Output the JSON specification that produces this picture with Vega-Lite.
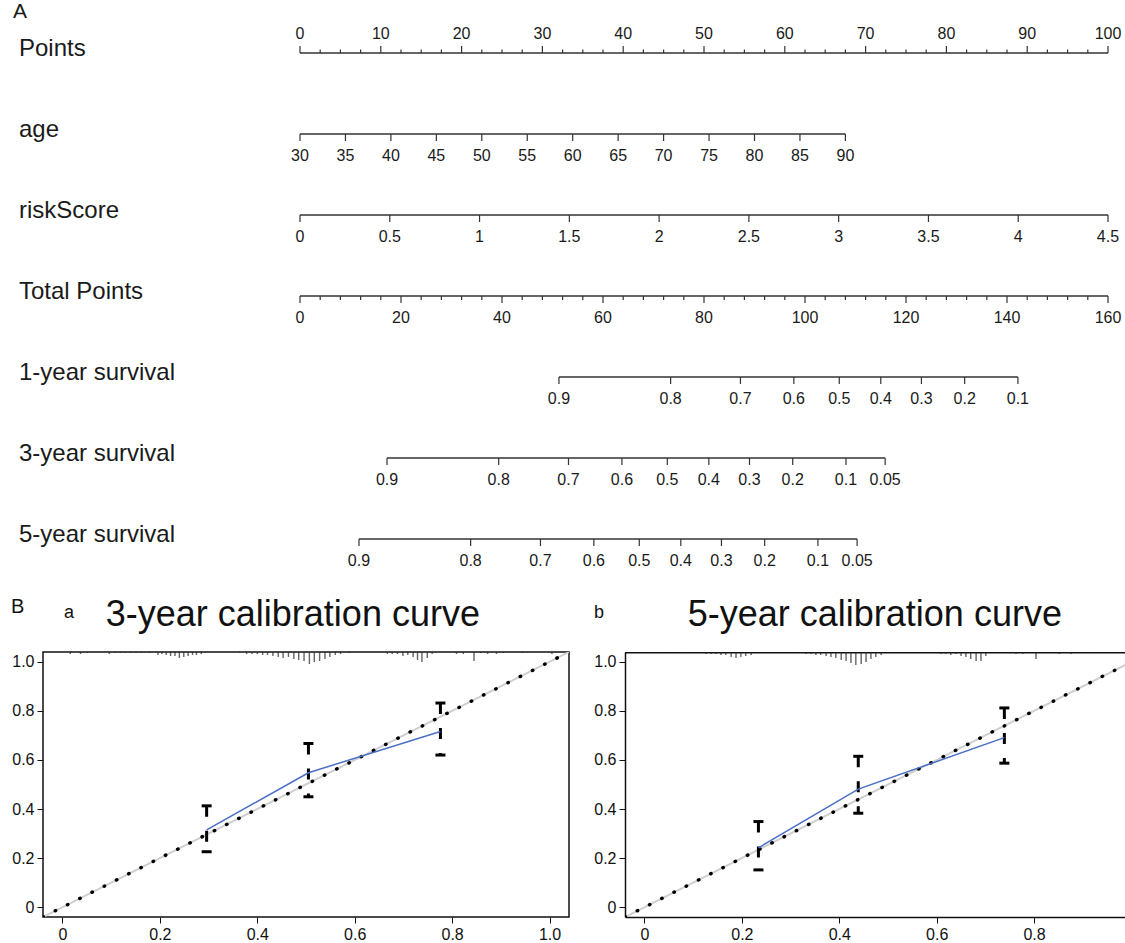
{
  "$schema": "https://vega.github.io/schema/vega-lite/v6.json",
  "background": "white",
  "padding": {"left": 10, "top": 0, "right": 0, "bottom": 0},
  "spacing": 16,
  "config": {
    "font": "Liberation Sans",
    "view": {"stroke": null},
    "axis": {
      "labelFont": "Liberation Sans",
      "labelFontSize": 16,
      "labelColor": "#111",
      "tickColor": "#111",
      "tickSize": 6,
      "tickWidth": 1,
      "labelPadding": 3,
      "grid": false,
      "domainColor": "#111",
      "domainWidth": 1.5,
      "labelFlush": false
    }
  },
  "datasets": {
    "ticks": [
      {"row": 0, "pts": 0, "label": "0"}, {"row": 0, "pts": 10, "label": "10"}, {"row": 0, "pts": 20, "label": "20"},
      {"row": 0, "pts": 30, "label": "30"}, {"row": 0, "pts": 40, "label": "40"}, {"row": 0, "pts": 50, "label": "50"},
      {"row": 0, "pts": 60, "label": "60"}, {"row": 0, "pts": 70, "label": "70"}, {"row": 0, "pts": 80, "label": "80"},
      {"row": 0, "pts": 90, "label": "90"}, {"row": 0, "pts": 100, "label": "100"},
      {"row": 0, "pts": 2.5}, {"row": 0, "pts": 5}, {"row": 0, "pts": 7.5}, {"row": 0, "pts": 12.5}, {"row": 0, "pts": 15},
      {"row": 0, "pts": 17.5}, {"row": 0, "pts": 22.5}, {"row": 0, "pts": 25}, {"row": 0, "pts": 27.5}, {"row": 0, "pts": 32.5},
      {"row": 0, "pts": 35}, {"row": 0, "pts": 37.5}, {"row": 0, "pts": 42.5}, {"row": 0, "pts": 45}, {"row": 0, "pts": 47.5},
      {"row": 0, "pts": 52.5}, {"row": 0, "pts": 55}, {"row": 0, "pts": 57.5}, {"row": 0, "pts": 62.5}, {"row": 0, "pts": 65},
      {"row": 0, "pts": 67.5}, {"row": 0, "pts": 72.5}, {"row": 0, "pts": 75}, {"row": 0, "pts": 77.5}, {"row": 0, "pts": 82.5},
      {"row": 0, "pts": 85}, {"row": 0, "pts": 87.5}, {"row": 0, "pts": 92.5}, {"row": 0, "pts": 95}, {"row": 0, "pts": 97.5},
      {"row": 1, "pts": 0, "label": "30"}, {"row": 1, "pts": 5.625, "label": "35"}, {"row": 1, "pts": 11.25, "label": "40"},
      {"row": 1, "pts": 16.875, "label": "45"}, {"row": 1, "pts": 22.5, "label": "50"}, {"row": 1, "pts": 28.125, "label": "55"},
      {"row": 1, "pts": 33.75, "label": "60"}, {"row": 1, "pts": 39.375, "label": "65"}, {"row": 1, "pts": 45, "label": "70"},
      {"row": 1, "pts": 50.625, "label": "75"}, {"row": 1, "pts": 56.25, "label": "80"}, {"row": 1, "pts": 61.875, "label": "85"},
      {"row": 1, "pts": 67.5, "label": "90"},
      {"row": 2, "pts": 0, "label": "0"}, {"row": 2, "pts": 11.111, "label": "0.5"}, {"row": 2, "pts": 22.222, "label": "1"},
      {"row": 2, "pts": 33.333, "label": "1.5"}, {"row": 2, "pts": 44.444, "label": "2"}, {"row": 2, "pts": 55.556, "label": "2.5"},
      {"row": 2, "pts": 66.667, "label": "3"}, {"row": 2, "pts": 77.778, "label": "3.5"}, {"row": 2, "pts": 88.889, "label": "4"},
      {"row": 2, "pts": 100, "label": "4.5"},
      {"row": 3, "pts": 0, "label": "0"}, {"row": 3, "pts": 12.5, "label": "20"}, {"row": 3, "pts": 25, "label": "40"},
      {"row": 3, "pts": 37.5, "label": "60"}, {"row": 3, "pts": 50, "label": "80"}, {"row": 3, "pts": 62.5, "label": "100"},
      {"row": 3, "pts": 75, "label": "120"}, {"row": 3, "pts": 87.5, "label": "140"}, {"row": 3, "pts": 100, "label": "160"},
      {"row": 3, "pts": 2.5}, {"row": 3, "pts": 5}, {"row": 3, "pts": 7.5}, {"row": 3, "pts": 10}, {"row": 3, "pts": 15},
      {"row": 3, "pts": 17.5}, {"row": 3, "pts": 20}, {"row": 3, "pts": 22.5}, {"row": 3, "pts": 27.5}, {"row": 3, "pts": 30},
      {"row": 3, "pts": 32.5}, {"row": 3, "pts": 35}, {"row": 3, "pts": 40}, {"row": 3, "pts": 42.5}, {"row": 3, "pts": 45},
      {"row": 3, "pts": 47.5}, {"row": 3, "pts": 52.5}, {"row": 3, "pts": 55}, {"row": 3, "pts": 57.5}, {"row": 3, "pts": 60},
      {"row": 3, "pts": 65}, {"row": 3, "pts": 67.5}, {"row": 3, "pts": 70}, {"row": 3, "pts": 72.5}, {"row": 3, "pts": 77.5},
      {"row": 3, "pts": 80}, {"row": 3, "pts": 82.5}, {"row": 3, "pts": 85}, {"row": 3, "pts": 90}, {"row": 3, "pts": 92.5},
      {"row": 3, "pts": 95}, {"row": 3, "pts": 97.5},
      {"row": 4, "pts": 32.05, "label": "0.9"}, {"row": 4, "pts": 45.87, "label": "0.8"}, {"row": 4, "pts": 54.51, "label": "0.7"},
      {"row": 4, "pts": 61.12, "label": "0.6"}, {"row": 4, "pts": 66.74, "label": "0.5"}, {"row": 4, "pts": 71.88, "label": "0.4"},
      {"row": 4, "pts": 76.91, "label": "0.3"}, {"row": 4, "pts": 82.26, "label": "0.2"}, {"row": 4, "pts": 88.85, "label": "0.1"},
      {"row": 5, "pts": 10.77, "label": "0.9"}, {"row": 5, "pts": 24.59, "label": "0.8"}, {"row": 5, "pts": 33.23, "label": "0.7"},
      {"row": 5, "pts": 39.84, "label": "0.6"}, {"row": 5, "pts": 45.46, "label": "0.5"}, {"row": 5, "pts": 50.6, "label": "0.4"},
      {"row": 5, "pts": 55.63, "label": "0.3"}, {"row": 5, "pts": 60.98, "label": "0.2"}, {"row": 5, "pts": 67.57, "label": "0.1"},
      {"row": 5, "pts": 72.42, "label": "0.05"},
      {"row": 6, "pts": 7.3, "label": "0.9"}, {"row": 6, "pts": 21.12, "label": "0.8"}, {"row": 6, "pts": 29.76, "label": "0.7"},
      {"row": 6, "pts": 36.37, "label": "0.6"}, {"row": 6, "pts": 41.99, "label": "0.5"}, {"row": 6, "pts": 47.13, "label": "0.4"},
      {"row": 6, "pts": 52.16, "label": "0.3"}, {"row": 6, "pts": 57.51, "label": "0.2"}, {"row": 6, "pts": 64.1, "label": "0.1"},
      {"row": 6, "pts": 68.95, "label": "0.05"}
    ],
    "rowNames": [
      {"row": 0, "name": "Points"}, {"row": 1, "name": "age"}, {"row": 2, "name": "riskScore"},
      {"row": 3, "name": "Total Points"}, {"row": 4, "name": "1-year survival"},
      {"row": 5, "name": "3-year survival"}, {"row": 6, "name": "5-year survival"}
    ],
    "diag": [{"p": -0.04}, {"p": 1.04}],
    "cal3": [
      {"pred": 0.296, "obs": 0.315, "lower": 0.226, "upper": 0.413},
      {"pred": 0.505, "obs": 0.548, "lower": 0.45, "upper": 0.667},
      {"pred": 0.776, "obs": 0.716, "lower": 0.62, "upper": 0.832}
    ],
    "cal5": [
      {"pred": 0.234, "obs": 0.242, "lower": 0.152, "upper": 0.349},
      {"pred": 0.439, "obs": 0.481, "lower": 0.383, "upper": 0.615},
      {"pred": 0.739, "obs": 0.691, "lower": 0.587, "upper": 0.812}
    ],
    "rug3": [
      {"pos": 0.016, "count": 2}, {"pos": 0.037, "count": 2}, {"pos": 0.051, "count": 1}, {"pos": 0.096, "count": 2},
      {"pos": 0.108, "count": 1}, {"pos": 0.119, "count": 1}, {"pos": 0.129, "count": 1}, {"pos": 0.14, "count": 1},
      {"pos": 0.151, "count": 1}, {"pos": 0.161, "count": 1}, {"pos": 0.179, "count": 1}, {"pos": 0.196, "count": 3},
      {"pos": 0.204, "count": 2}, {"pos": 0.213, "count": 3}, {"pos": 0.222, "count": 4}, {"pos": 0.231, "count": 4},
      {"pos": 0.24, "count": 6}, {"pos": 0.249, "count": 5}, {"pos": 0.258, "count": 4}, {"pos": 0.267, "count": 3},
      {"pos": 0.275, "count": 3}, {"pos": 0.285, "count": 2}, {"pos": 0.293, "count": 1}, {"pos": 0.364, "count": 1},
      {"pos": 0.378, "count": 2}, {"pos": 0.389, "count": 2}, {"pos": 0.4, "count": 2}, {"pos": 0.411, "count": 3},
      {"pos": 0.421, "count": 3}, {"pos": 0.432, "count": 4}, {"pos": 0.443, "count": 5}, {"pos": 0.453, "count": 6},
      {"pos": 0.464, "count": 5}, {"pos": 0.475, "count": 7}, {"pos": 0.485, "count": 8}, {"pos": 0.496, "count": 9},
      {"pos": 0.507, "count": 12}, {"pos": 0.517, "count": 10}, {"pos": 0.528, "count": 9}, {"pos": 0.539, "count": 7},
      {"pos": 0.549, "count": 5}, {"pos": 0.56, "count": 3}, {"pos": 0.571, "count": 2}, {"pos": 0.588, "count": 1},
      {"pos": 0.667, "count": 2}, {"pos": 0.677, "count": 2}, {"pos": 0.688, "count": 2}, {"pos": 0.699, "count": 4},
      {"pos": 0.709, "count": 3}, {"pos": 0.72, "count": 5}, {"pos": 0.729, "count": 8}, {"pos": 0.738, "count": 10},
      {"pos": 0.749, "count": 6}, {"pos": 0.759, "count": 2}, {"pos": 0.809, "count": 2}, {"pos": 0.823, "count": 2},
      {"pos": 0.845, "count": 9}, {"pos": 0.859, "count": 1}, {"pos": 0.873, "count": 2}, {"pos": 0.891, "count": 2},
      {"pos": 0.905, "count": 1}, {"pos": 0.944, "count": 1}, {"pos": 1.005, "count": 2}
    ],
    "rug5": [
      {"pos": 0.013, "count": 1}, {"pos": 0.024, "count": 1}, {"pos": 0.037, "count": 1}, {"pos": 0.065, "count": 1},
      {"pos": 0.075, "count": 1}, {"pos": 0.085, "count": 1}, {"pos": 0.096, "count": 1}, {"pos": 0.116, "count": 1},
      {"pos": 0.126, "count": 2}, {"pos": 0.137, "count": 2}, {"pos": 0.147, "count": 2}, {"pos": 0.157, "count": 3},
      {"pos": 0.167, "count": 3}, {"pos": 0.178, "count": 5}, {"pos": 0.188, "count": 6}, {"pos": 0.198, "count": 5},
      {"pos": 0.208, "count": 4}, {"pos": 0.219, "count": 3}, {"pos": 0.308, "count": 1}, {"pos": 0.321, "count": 1},
      {"pos": 0.332, "count": 2}, {"pos": 0.342, "count": 2}, {"pos": 0.352, "count": 3}, {"pos": 0.362, "count": 3},
      {"pos": 0.373, "count": 4}, {"pos": 0.383, "count": 5}, {"pos": 0.393, "count": 6}, {"pos": 0.404, "count": 8},
      {"pos": 0.414, "count": 9}, {"pos": 0.424, "count": 11}, {"pos": 0.434, "count": 13}, {"pos": 0.445, "count": 12},
      {"pos": 0.455, "count": 10}, {"pos": 0.465, "count": 7}, {"pos": 0.475, "count": 5}, {"pos": 0.486, "count": 3},
      {"pos": 0.513, "count": 1}, {"pos": 0.609, "count": 2}, {"pos": 0.619, "count": 2}, {"pos": 0.629, "count": 3},
      {"pos": 0.64, "count": 2}, {"pos": 0.65, "count": 4}, {"pos": 0.66, "count": 5}, {"pos": 0.67, "count": 7},
      {"pos": 0.681, "count": 9}, {"pos": 0.691, "count": 9}, {"pos": 0.701, "count": 4}, {"pos": 0.763, "count": 2},
      {"pos": 0.777, "count": 2}, {"pos": 0.804, "count": 7}, {"pos": 0.852, "count": 2}, {"pos": 0.866, "count": 1},
      {"pos": 0.876, "count": 2}, {"pos": 0.924, "count": 1}
    ]
  },
  "vconcat": [
    {
      "width": 1083,
      "height": 580,
      "layer": [
        {
          "data": {"name": "ticks"},
          "transform": [{"aggregate": [{"op": "min", "field": "pts", "as": "lo"}, {"op": "max", "field": "pts", "as": "hi"}], "groupby": ["row"]}],
          "mark": {"type": "rule", "color": "#333", "strokeWidth": 1.4},
          "encoding": {
            "x": {"field": "lo", "type": "quantitative", "scale": {"domain": [-31.807, 102.228], "nice": false, "zero": false}, "axis": null},
            "x2": {"field": "hi"},
            "y": {"field": "row", "type": "quantitative", "scale": {"domain": [-0.6543, 6.5062], "nice": false, "zero": false, "reverse": true}, "axis": null}
          }
        },
        {
          "data": {"name": "ticks"},
          "transform": [{"filter": "datum.row == 0 && datum.label != null"}],
          "mark": {"type": "rule", "color": "#333", "strokeWidth": 1.2, "y2Offset": -7},
          "encoding": {
            "x": {"field": "pts", "type": "quantitative", "scale": {"domain": [-31.807, 102.228], "nice": false, "zero": false}, "axis": null},
            "y": {"field": "row", "type": "quantitative", "scale": {"domain": [-0.6543, 6.5062], "nice": false, "zero": false, "reverse": true}, "axis": null},
            "y2": {"field": "row"}
          }
        },
        {
          "data": {"name": "ticks"},
          "transform": [{"filter": "datum.row == 0 && datum.label == null"}],
          "mark": {"type": "rule", "color": "#333", "strokeWidth": 1.2, "y2Offset": -3.5},
          "encoding": {
            "x": {"field": "pts", "type": "quantitative", "scale": {"domain": [-31.807, 102.228], "nice": false, "zero": false}, "axis": null},
            "y": {"field": "row", "type": "quantitative", "scale": {"domain": [-0.6543, 6.5062], "nice": false, "zero": false, "reverse": true}, "axis": null},
            "y2": {"field": "row"}
          }
        },
        {
          "data": {"name": "ticks"},
          "transform": [{"filter": "datum.row > 0 && datum.label != null"}],
          "mark": {"type": "rule", "color": "#333", "strokeWidth": 1.2, "y2Offset": 7},
          "encoding": {
            "x": {"field": "pts", "type": "quantitative", "scale": {"domain": [-31.807, 102.228], "nice": false, "zero": false}, "axis": null},
            "y": {"field": "row", "type": "quantitative", "scale": {"domain": [-0.6543, 6.5062], "nice": false, "zero": false, "reverse": true}, "axis": null},
            "y2": {"field": "row"}
          }
        },
        {
          "data": {"name": "ticks"},
          "transform": [{"filter": "datum.row > 0 && datum.label == null"}],
          "mark": {"type": "rule", "color": "#333", "strokeWidth": 1.2, "y2Offset": 4},
          "encoding": {
            "x": {"field": "pts", "type": "quantitative", "scale": {"domain": [-31.807, 102.228], "nice": false, "zero": false}, "axis": null},
            "y": {"field": "row", "type": "quantitative", "scale": {"domain": [-0.6543, 6.5062], "nice": false, "zero": false, "reverse": true}, "axis": null},
            "y2": {"field": "row"}
          }
        },
        {
          "data": {"name": "ticks"},
          "transform": [{"filter": "datum.row == 0 && datum.label != null"}],
          "mark": {"type": "text", "fontSize": 16, "color": "#1a1a1a", "baseline": "middle", "dy": -19},
          "encoding": {
            "x": {"field": "pts", "type": "quantitative", "scale": {"domain": [-31.807, 102.228], "nice": false, "zero": false}, "axis": null},
            "y": {"field": "row", "type": "quantitative", "scale": {"domain": [-0.6543, 6.5062], "nice": false, "zero": false, "reverse": true}, "axis": null},
            "text": {"field": "label"}
          }
        },
        {
          "data": {"name": "ticks"},
          "transform": [{"filter": "datum.row > 0 && datum.label != null"}],
          "mark": {"type": "text", "fontSize": 16, "color": "#1a1a1a", "baseline": "middle", "dy": 22},
          "encoding": {
            "x": {"field": "pts", "type": "quantitative", "scale": {"domain": [-31.807, 102.228], "nice": false, "zero": false}, "axis": null},
            "y": {"field": "row", "type": "quantitative", "scale": {"domain": [-0.6543, 6.5062], "nice": false, "zero": false, "reverse": true}, "axis": null},
            "text": {"field": "label"}
          }
        },
        {
          "data": {"name": "rowNames"},
          "mark": {"type": "text", "fontSize": 24, "color": "#1a1a1a", "align": "left", "baseline": "middle", "dy": -4},
          "encoding": {
            "x": {"datum": -34.78, "type": "quantitative", "scale": {"domain": [-31.807, 102.228], "nice": false, "zero": false}, "axis": null},
            "y": {"field": "row", "type": "quantitative", "scale": {"domain": [-0.6543, 6.5062], "nice": false, "zero": false, "reverse": true}, "axis": null},
            "text": {"field": "name"}
          }
        },
        {
          "data": {"values": [{}]},
          "mark": {"type": "text", "text": "A", "fontSize": 21, "color": "#1a1a1a", "align": "left", "baseline": "middle"},
          "encoding": {
            "x": {"datum": -35.52, "type": "quantitative", "scale": {"domain": [-31.807, 102.228], "nice": false, "zero": false}, "axis": null},
            "y": {"datum": -0.506, "type": "quantitative", "scale": {"domain": [-0.6543, 6.5062], "nice": false, "zero": false, "reverse": true}, "axis": null}
          }
        }
      ]
    },
    {
      "bounds": "flush",
      "spacing": 56,
      "hconcat": [
        {
          "width": 526,
          "height": 265,
          "view": {"stroke": "#111", "strokeWidth": 1.5},
          "layer": [
            {
              "data": {"name": "diag"},
              "mark": {"type": "line", "color": "#cfcfcf", "strokeWidth": 2, "clip": true},
              "encoding": {
                "x": {"field": "p", "type": "quantitative", "scale": {"domain": [-0.04, 1.04], "nice": false, "zero": false},
                      "axis": {"values": [0, 0.2, 0.4, 0.6, 0.8, 1], "labelExpr": "datum.value == 0 ? '0' : format(datum.value, '.1f')", "title": null, "domain": false}},
                "y": {"field": "p", "type": "quantitative", "scale": {"domain": [-0.04, 1.04], "nice": false, "zero": false},
                      "axis": {"values": [0, 0.2, 0.4, 0.6, 0.8, 1], "labelExpr": "datum.value == 0 ? '0' : format(datum.value, '.1f')", "title": null, "domain": false}}
              }
            },
            {
              "data": {"name": "diag"},
              "mark": {"type": "line", "color": "#000", "strokeWidth": 3.4, "strokeCap": "round", "strokeDash": [0.5, 13.2], "clip": true},
              "encoding": {
                "x": {"field": "p", "type": "quantitative", "scale": {"domain": [-0.04, 1.04], "nice": false, "zero": false}},
                "y": {"field": "p", "type": "quantitative", "scale": {"domain": [-0.04, 1.04], "nice": false, "zero": false}}
              }
            },
            {
              "data": {"name": "rug3"},
              "mark": {"type": "tick", "orient": "vertical", "thickness": 1.4, "color": "#222", "clip": true},
              "encoding": {
                "x": {"field": "pos", "type": "quantitative", "scale": {"domain": [-0.04, 1.04], "nice": false, "zero": false}},
                "y": {"datum": 1.04, "type": "quantitative", "scale": {"domain": [-0.04, 1.04], "nice": false, "zero": false}},
                "size": {"field": "count", "type": "quantitative", "scale": {"domain": [0, 14], "range": [0, 28]}, "legend": null}
              }
            },
            {
              "data": {"name": "cal3"},
              "mark": {"type": "rule", "color": "#000", "strokeWidth": 3, "strokeDash": [11, 14]},
              "encoding": {
                "x": {"field": "pred", "type": "quantitative", "scale": {"domain": [-0.04, 1.04], "nice": false, "zero": false}},
                "y": {"field": "upper", "type": "quantitative", "scale": {"domain": [-0.04, 1.04], "nice": false, "zero": false}},
                "y2": {"field": "lower"}
              }
            },
            {
              "data": {"name": "cal3"},
              "mark": {"type": "rule", "color": "#000", "strokeWidth": 3, "xOffset": -5, "x2Offset": 5},
              "encoding": {
                "x": {"field": "pred", "type": "quantitative", "scale": {"domain": [-0.04, 1.04], "nice": false, "zero": false}},
                "x2": {"field": "pred"},
                "y": {"field": "upper", "type": "quantitative", "scale": {"domain": [-0.04, 1.04], "nice": false, "zero": false}}
              }
            },
            {
              "data": {"name": "cal3"},
              "mark": {"type": "rule", "color": "#000", "strokeWidth": 3, "xOffset": -5, "x2Offset": 5},
              "encoding": {
                "x": {"field": "pred", "type": "quantitative", "scale": {"domain": [-0.04, 1.04], "nice": false, "zero": false}},
                "x2": {"field": "pred"},
                "y": {"field": "lower", "type": "quantitative", "scale": {"domain": [-0.04, 1.04], "nice": false, "zero": false}}
              }
            },
            {
              "data": {"name": "cal3"},
              "mark": {"type": "line", "color": "#4a6fc4", "strokeWidth": 1.5},
              "encoding": {
                "x": {"field": "pred", "type": "quantitative", "scale": {"domain": [-0.04, 1.04], "nice": false, "zero": false}},
                "y": {"field": "obs", "type": "quantitative", "scale": {"domain": [-0.04, 1.04], "nice": false, "zero": false}}
              }
            },
            {
              "data": {"values": [{}]},
              "mark": {"type": "text", "text": "3-year calibration curve", "fontSize": 36, "color": "#111", "align": "center", "baseline": "alphabetic"},
              "encoding": {
                "x": {"datum": 0.473, "type": "quantitative", "scale": {"domain": [-0.04, 1.04], "nice": false, "zero": false}},
                "y": {"datum": 1.146, "type": "quantitative", "scale": {"domain": [-0.04, 1.04], "nice": false, "zero": false}}
              }
            },
            {
              "data": {"values": [{}]},
              "mark": {"type": "text", "text": "B", "fontSize": 20, "color": "#111", "align": "left", "baseline": "alphabetic"},
              "encoding": {
                "x": {"datum": -0.1057, "type": "quantitative", "scale": {"domain": [-0.04, 1.04], "nice": false, "zero": false}},
                "y": {"datum": 1.199, "type": "quantitative", "scale": {"domain": [-0.04, 1.04], "nice": false, "zero": false}}
              }
            },
            {
              "data": {"values": [{}]},
              "mark": {"type": "text", "text": "a", "fontSize": 18, "color": "#111", "align": "left", "baseline": "alphabetic"},
              "encoding": {
                "x": {"datum": 0.003, "type": "quantitative", "scale": {"domain": [-0.04, 1.04], "nice": false, "zero": false}},
                "y": {"datum": 1.1786, "type": "quantitative", "scale": {"domain": [-0.04, 1.04], "nice": false, "zero": false}}
              }
            }
          ]
        },
        {
          "width": 501,
          "height": 265,
          "layer": [
            {
              "data": {"name": "diag"},
              "mark": {"type": "line", "color": "#cfcfcf", "strokeWidth": 2, "clip": true},
              "encoding": {
                "x": {"field": "p", "type": "quantitative", "scale": {"domain": [-0.04, 0.9888], "nice": false, "zero": false},
                      "axis": {"values": [0, 0.2, 0.4, 0.6, 0.8], "labelExpr": "datum.value == 0 ? '0' : format(datum.value, '.1f')", "title": null, "domain": true}},
                "y": {"field": "p", "type": "quantitative", "scale": {"domain": [-0.04, 1.04], "nice": false, "zero": false},
                      "axis": {"values": [0, 0.2, 0.4, 0.6, 0.8, 1], "labelExpr": "datum.value == 0 ? '0' : format(datum.value, '.1f')", "title": null, "domain": true}}
              }
            },
            {
              "data": {"values": [{}]},
              "mark": {"type": "rule", "color": "#111", "strokeWidth": 3, "clip": true},
              "encoding": {
                "x": {"datum": -0.04, "type": "quantitative", "scale": {"domain": [-0.04, 0.9888], "nice": false, "zero": false}},
                "x2": {"datum": 1.04},
                "y": {"datum": 1.04, "type": "quantitative", "scale": {"domain": [-0.04, 1.04], "nice": false, "zero": false}}
              }
            },
            {
              "data": {"name": "diag"},
              "mark": {"type": "line", "color": "#000", "strokeWidth": 3.4, "strokeCap": "round", "strokeDash": [0.5, 13.2], "clip": true},
              "encoding": {
                "x": {"field": "p", "type": "quantitative", "scale": {"domain": [-0.04, 0.9888], "nice": false, "zero": false}},
                "y": {"field": "p", "type": "quantitative", "scale": {"domain": [-0.04, 1.04], "nice": false, "zero": false}}
              }
            },
            {
              "data": {"name": "rug5"},
              "mark": {"type": "tick", "orient": "vertical", "thickness": 1.4, "color": "#222", "clip": true},
              "encoding": {
                "x": {"field": "pos", "type": "quantitative", "scale": {"domain": [-0.04, 0.9888], "nice": false, "zero": false}},
                "y": {"datum": 1.04, "type": "quantitative", "scale": {"domain": [-0.04, 1.04], "nice": false, "zero": false}},
                "size": {"field": "count", "type": "quantitative", "scale": {"domain": [0, 14], "range": [0, 28]}, "legend": null}
              }
            },
            {
              "data": {"name": "cal5"},
              "mark": {"type": "rule", "color": "#000", "strokeWidth": 3, "strokeDash": [11, 14]},
              "encoding": {
                "x": {"field": "pred", "type": "quantitative", "scale": {"domain": [-0.04, 0.9888], "nice": false, "zero": false}},
                "y": {"field": "upper", "type": "quantitative", "scale": {"domain": [-0.04, 1.04], "nice": false, "zero": false}},
                "y2": {"field": "lower"}
              }
            },
            {
              "data": {"name": "cal5"},
              "mark": {"type": "rule", "color": "#000", "strokeWidth": 3, "xOffset": -5, "x2Offset": 5},
              "encoding": {
                "x": {"field": "pred", "type": "quantitative", "scale": {"domain": [-0.04, 0.9888], "nice": false, "zero": false}},
                "x2": {"field": "pred"},
                "y": {"field": "upper", "type": "quantitative", "scale": {"domain": [-0.04, 1.04], "nice": false, "zero": false}}
              }
            },
            {
              "data": {"name": "cal5"},
              "mark": {"type": "rule", "color": "#000", "strokeWidth": 3, "xOffset": -5, "x2Offset": 5},
              "encoding": {
                "x": {"field": "pred", "type": "quantitative", "scale": {"domain": [-0.04, 0.9888], "nice": false, "zero": false}},
                "x2": {"field": "pred"},
                "y": {"field": "lower", "type": "quantitative", "scale": {"domain": [-0.04, 1.04], "nice": false, "zero": false}}
              }
            },
            {
              "data": {"name": "cal5"},
              "mark": {"type": "line", "color": "#4a6fc4", "strokeWidth": 1.5},
              "encoding": {
                "x": {"field": "pred", "type": "quantitative", "scale": {"domain": [-0.04, 0.9888], "nice": false, "zero": false}},
                "y": {"field": "obs", "type": "quantitative", "scale": {"domain": [-0.04, 1.04], "nice": false, "zero": false}}
              }
            },
            {
              "data": {"values": [{}]},
              "mark": {"type": "text", "text": "5-year calibration curve", "fontSize": 36, "color": "#111", "align": "center", "baseline": "alphabetic"},
              "encoding": {
                "x": {"datum": 0.473, "type": "quantitative", "scale": {"domain": [-0.04, 0.9888], "nice": false, "zero": false}},
                "y": {"datum": 1.146, "type": "quantitative", "scale": {"domain": [-0.04, 1.04], "nice": false, "zero": false}}
              }
            },
            {
              "data": {"values": [{}]},
              "mark": {"type": "text", "text": "b", "fontSize": 18, "color": "#111", "align": "left", "baseline": "alphabetic"},
              "encoding": {
                "x": {"datum": -0.1037, "type": "quantitative", "scale": {"domain": [-0.04, 0.9888], "nice": false, "zero": false}},
                "y": {"datum": 1.1786, "type": "quantitative", "scale": {"domain": [-0.04, 1.04], "nice": false, "zero": false}}
              }
            }
          ]
        }
      ]
    }
  ]
}
